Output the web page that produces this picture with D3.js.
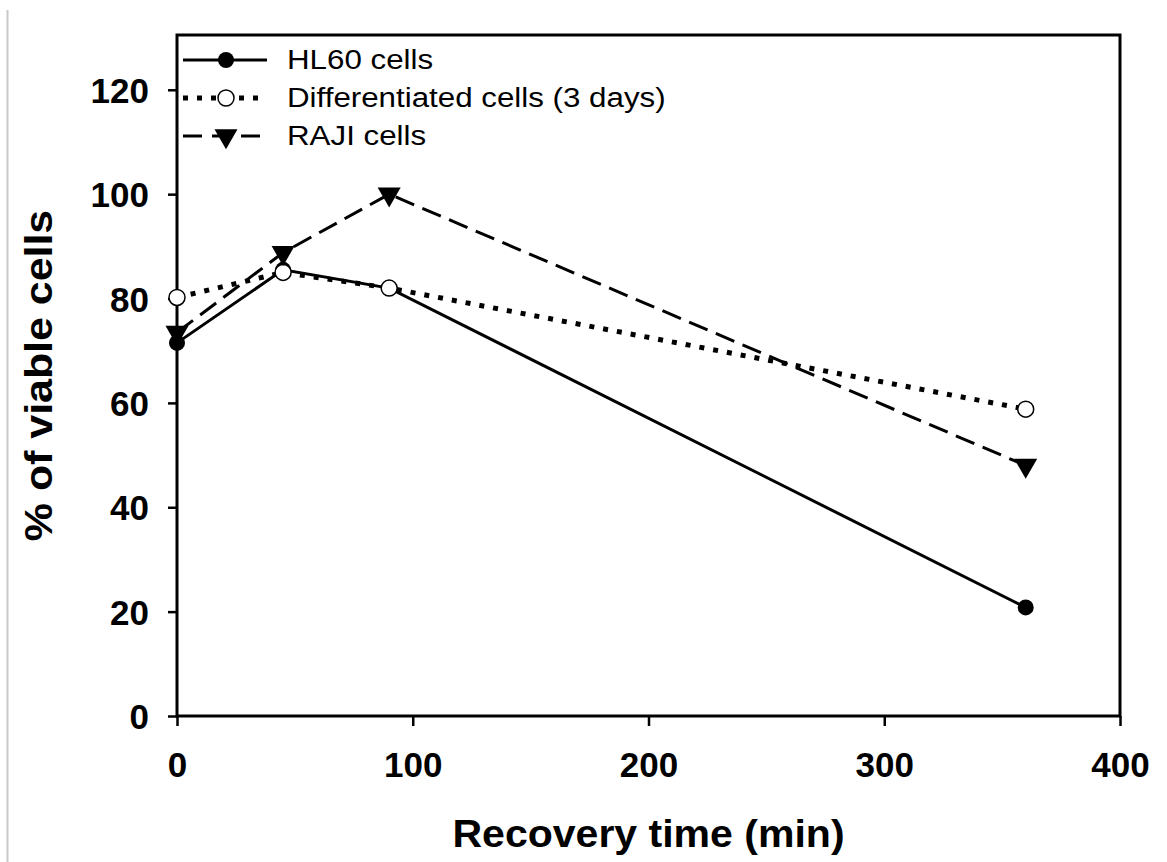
<!DOCTYPE html>
<html>
<head>
  <meta charset="utf-8" />
  <title>% of viable cells vs recovery time</title>
  <script src="https://cdn.jsdelivr.net/npm/d3@7"></script>
  <style>
    body { margin: 0; background: #fff; }
    text { font-family: Arial, "Liberation Sans", sans-serif; fill: #000; }
  </style>
</head>
<body>
<script>
  // data
  var times = [0, 45, 90, 360];
  var hl60 = [71.5, 85.5, 82, 20.8];
  var differentiated = [80.2, 85, 82, 58.8];
  var raji = [73.5, 88.8, 100, 48];
  var seriesNames = ["HL60 cells", "Differentiated cells (3 days)", "RAJI cells"];
  var xTicks = [0, 100, 200, 300, 400];
  var yTicks = [0, 20, 40, 60, 80, 100, 120];

  var width = 1167, height = 862;
  var margin = {top: 35, right: 47, bottom: 146, left: 177};
  var plotW = width - margin.left - margin.right,
      plotH = height - margin.top - margin.bottom;

  var svg = d3.select("body").append("svg")
      .attr("width", width)
      .attr("height", height);

  svg.append("rect").attr("width", width).attr("height", height).attr("fill", "#fff");

  // thin grey rule at the left edge of the picture
  svg.append("line")
      .attr("x1", 7.5).attr("x2", 7.5)
      .attr("y1", 10).attr("y2", height)
      .attr("stroke", "#c8c8c8").attr("stroke-width", 2);

  var x = d3.scaleLinear().domain([0, 400]).range([0, plotW]);
  var y = d3.scaleLinear().domain([0, 130.5]).range([plotH, 0]);

  var g = svg.append("g")
      .attr("transform", "translate(" + margin.left + "," + margin.top + ")");

  // axes
  var xAxis = g.append("g")
      .attr("transform", "translate(0," + plotH + ")")
      .call(d3.axisBottom(x).tickValues(xTicks).tickSize(10).tickPadding(26));
  var yAxis = g.append("g")
      .call(d3.axisLeft(y).tickValues(yTicks).tickSize(9).tickPadding(19));

  [xAxis, yAxis].forEach(function(a) {
    a.select(".domain").remove();
    a.selectAll(".tick line").attr("stroke", "#000").attr("stroke-width", 2.5);
    a.selectAll(".tick text")
        .style("font-family", "Arial, 'Liberation Sans', sans-serif")
        .style("font-weight", "bold")
        .style("font-size", "35px")
        .attr("fill", "#000");
  });
  yAxis.selectAll(".tick text").attr("dy", "0.36em");

  // frame
  g.append("rect")
      .attr("width", plotW).attr("height", plotH)
      .attr("fill", "none").attr("stroke", "#000").attr("stroke-width", 3);

  var series = [
    {name: seriesNames[0], values: hl60, dash: null, width: 3, marker: "dot"},
    {name: seriesNames[1], values: differentiated, dash: "5 9", width: 5, marker: "open"},
    {name: seriesNames[2], values: raji, dash: "20 9", width: 3, marker: "tri"}
  ];

  var line = d3.line()
      .x(function(d) { return x(d[0]); })
      .y(function(d) { return y(d[1]); });

  var tri = d3.symbol().type(d3.symbolTriangle).size(230);

  function drawMarker(sel, type) {
    if (type === "dot") {
      sel.append("circle").attr("r", 8).attr("fill", "#000");
    } else if (type === "open") {
      sel.append("circle").attr("r", 8).attr("fill", "#fff")
          .attr("stroke", "#000").attr("stroke-width", 1.5);
    } else {
      sel.append("path").attr("d", tri).attr("transform", "rotate(180)")
          .attr("fill", "#000");
    }
  }

  series.forEach(function(s) {
    var pts = times.map(function(t, i) { return [t, s.values[i]]; });
    g.append("path")
        .datum(pts)
        .attr("d", line)
        .attr("fill", "none")
        .attr("stroke", "#000")
        .attr("stroke-width", s.width)
        .attr("stroke-dasharray", s.dash);
    pts.forEach(function(p) {
      var m = g.append("g")
          .attr("transform", "translate(" + x(p[0]) + "," + y(p[1]) + ")");
      drawMarker(m, s.marker);
    });
  });

  // legend
  var legend = g.append("g").attr("transform", "translate(6,25)");
  series.forEach(function(s, i) {
    var row = legend.append("g").attr("transform", "translate(0," + (i * 38) + ")");
    row.append("line")
        .attr("x1", 0).attr("x2", 84)
        .attr("stroke", "#000")
        .attr("stroke-width", s.width)
        .attr("stroke-dasharray", s.marker === "open" ? "5 9" : (s.dash ? "19 10" : null));
    drawMarker(row.append("g").attr("transform", "translate(43,0)"), s.marker);
    row.append("text")
        .attr("transform", "translate(104,9) scale(1.16,1)")
        .style("font-size", "27px")
        .text(s.name);
  });

  // axis titles
  svg.append("text")
      .attr("transform", "translate(" + (margin.left + plotW / 2) + ",847) scale(1.08,1)")
      .attr("text-anchor", "middle")
      .style("font-size", "38px")
      .style("font-weight", "bold")
      .text("Recovery time (min)");

  svg.append("text")
      .attr("transform", "translate(52," + (margin.top + plotH / 2) + ") rotate(-90) scale(1.1,1)")
      .attr("text-anchor", "middle")
      .style("font-size", "39px")
      .style("font-weight", "bold")
      .text("% of viable cells");
</script>
</body>
</html>
